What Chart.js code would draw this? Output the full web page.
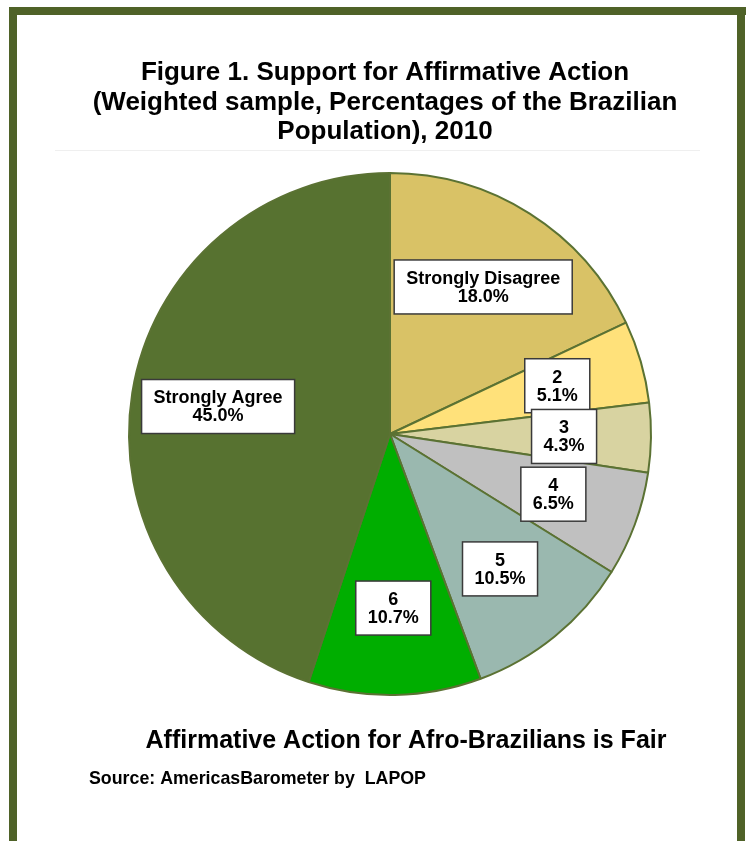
<!DOCTYPE html>
<html lang="en">
<head>
    <meta charset="UTF-8" />
    <title>Support for Affirmative Action</title>
    <script src="https://cdn.jsdelivr.net/npm/chart.js@4.4.1/dist/chart.umd.min.js"></script>
    <style>
        html, body { margin: 0; padding: 0; background: #fff; }
        #wrap { position: relative; width: 747px; height: 841px; }
    </style>
</head>
<body>
    <div id="wrap">
        <canvas id="pieChart" width="747" height="841"></canvas>
    </div>

    <script>
        // data
        const categories = ['Strongly Disagree', '2', '3', '4', '5', '6', 'Strongly Agree'];
        const percentages = [18.0, 5.1, 4.3, 6.5, 10.5, 10.7, 45.0];
        const sliceColors = ['#D9C266', '#FFE17A', '#D8D3A1', '#C0C0C0', '#9AB8AF', '#00AE00', '#577230'];

        const titleLines = [
            'Figure 1. Support for Affirmative Action',
            '(Weighted sample, Percentages of the Brazilian',
            'Population), 2010'
        ];
        const xAxisTitle = 'Affirmative Action for Afro-Brazilians is Fair';
        const sourceNote = 'Source: AmericasBarometer by  LAPOP';

        const FONT = '"Liberation Sans", Arial, sans-serif';

        // frame, titles and footer text
        const pagePlugin = {
            id: 'page',
            beforeDraw(chart) {
                const ctx = chart.ctx;
                ctx.save();
                ctx.fillStyle = '#ffffff';
                ctx.fillRect(0, 0, chart.width, chart.height);
                // olive frame (open at the bottom)
                ctx.fillStyle = '#4F6228';
                ctx.fillRect(9, 7, 737, 8);
                ctx.fillRect(9, 7, 8, chart.height);
                ctx.fillRect(737, 7, 8, chart.height);
                // faint rule under the title
                ctx.fillStyle = '#efefef';
                ctx.fillRect(55, 150, 645, 1);
                ctx.restore();
            },
            afterDraw(chart) {
                const ctx = chart.ctx;
                ctx.save();
                ctx.fillStyle = '#000';
                ctx.textAlign = 'center';
                ctx.textBaseline = 'alphabetic';
                ctx.font = 'bold 26px ' + FONT;
                titleLines.forEach((line, i) => ctx.fillText(line, 385, 80 + i * 29.5));
                ctx.font = 'bold 25px ' + FONT;
                ctx.fillText(xAxisTitle, 406, 748);
                ctx.textAlign = 'left';
                ctx.font = 'bold 17.8px ' + FONT;
                ctx.fillText(sourceNote, 89, 784);
                ctx.restore();
            }
        };

        // boxed value labels on each slice
        const boxLabels = {
            id: 'boxLabels',
            afterDatasetsDraw(chart) {
                const ctx = chart.ctx;
                const meta = chart.getDatasetMeta(0);
                ctx.save();
                ctx.font = 'bold 18px ' + FONT;
                ctx.textAlign = 'center';
                ctx.textBaseline = 'middle';
                meta.data.forEach((arc, i) => {
                    const p = arc.getProps(['x', 'y', 'startAngle', 'endAngle', 'outerRadius'], true);
                    const mid = (p.startAngle + p.endAngle) / 2;
                    const r = p.outerRadius * 0.667;
                    const cx = p.x + Math.cos(mid) * r;
                    const cy = p.y + Math.sin(mid) * r;
                    const lines = [categories[i], percentages[i].toFixed(1) + '%'];
                    const tw = Math.max(...lines.map(l => ctx.measureText(l).width));
                    const w = tw + 24;
                    const h = 54;
                    ctx.fillStyle = '#ffffff';
                    ctx.fillRect(cx - w / 2, cy - h / 2, w, h);
                    ctx.strokeStyle = '#3a3a3a';
                    ctx.lineWidth = 1.5;
                    ctx.strokeRect(cx - w / 2, cy - h / 2, w, h);
                    ctx.fillStyle = '#000';
                    ctx.fillText(lines[0], cx, cy - 8);
                    ctx.fillText(lines[1], cx, cy + 10);
                });
                ctx.restore();
            }
        };

        new Chart(document.getElementById('pieChart'), {
            type: 'pie',
            data: {
                labels: categories,
                datasets: [{
                    data: percentages,
                    backgroundColor: sliceColors,
                    borderColor: '#5B7233',
                    borderWidth: 2
                }]
            },
            options: {
                responsive: false,
                animation: false,
                layout: {
                    padding: { left: 128, right: 95, top: 172, bottom: 145 }
                },
                plugins: {
                    legend: { display: false },
                    tooltip: { enabled: false },
                    title: { display: false }
                }
            },
            plugins: [pagePlugin, boxLabels]
        });
    </script>
</body>
</html>
